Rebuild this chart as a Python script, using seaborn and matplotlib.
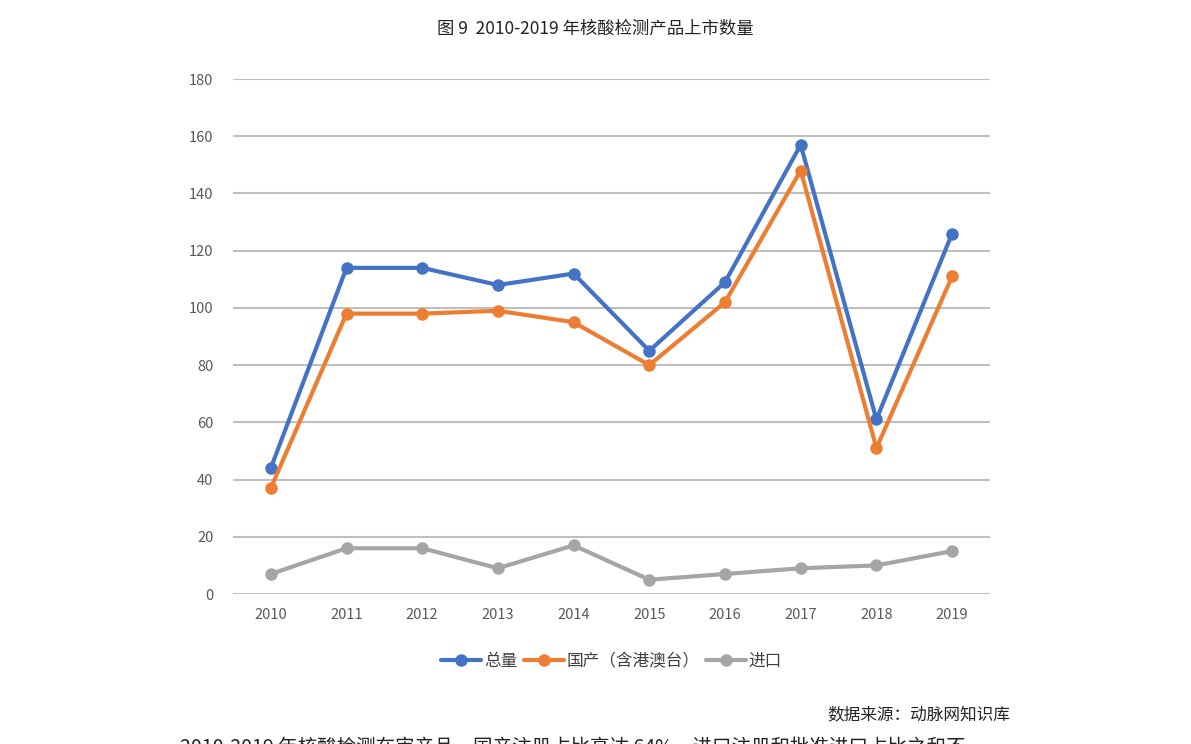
import pandas as pd
import seaborn as sns
import matplotlib.pyplot as plt

years = ["2010", "2011", "2012", "2013", "2014", "2015", "2016", "2017", "2018", "2019"]
total = [44, 114, 114, 108, 112, 85, 109, 157, 61, 126]
domestic = [37, 98, 98, 99, 95, 80, 102, 148, 51, 111]
imported = [7, 16, 16, 9, 17, 5, 7, 9, 10, 15]
series_names = ["总量", "国产（含港澳台）", "进口"]
colors = ["#4472C4", "#ED7D31", "#A5A5A5"]

df = pd.DataFrame({"年份": years * 3,
                   "数量": total + domestic + imported,
                   "类型": [n for n in series_names for _ in years]})

sns.set_style("white")
plt.rcParams["font.family"] = ["Noto Sans CJK SC", "DejaVu Sans"]

fig = plt.figure(figsize=(11.91, 7.44), dpi=100)
ax = fig.add_axes([0.1956, 0.2016, 0.6356, 0.6922])
sns.lineplot(data=df, x="年份", y="数量", hue="类型", palette=colors,
             marker="o", markersize=9, markeredgewidth=0, linewidth=3,
             sort=False, ax=ax)

ax.set_xlim(-0.5, 9.5)
ax.set_ylim(0, 180)
ax.set_yticks(range(0, 181, 20))
ax.grid(axis="y", color="#BFBFBF", linewidth=1.5)
ax.set_axisbelow(True)
for s in ax.spines.values():
    s.set_visible(False)
ax.tick_params(length=0, labelsize=10.5, labelcolor="#595959", pad=14)
ax.tick_params(axis="x", pad=10)
ax.set_xlabel("")
ax.set_ylabel("")

ax.legend(loc="upper center", bbox_to_anchor=(0.5, -0.085), ncol=3,
          frameon=False, fontsize=12, handlelength=2.4, handletextpad=0.15,
          columnspacing=0.4, labelcolor="#404040")

fig.text(0.5, 0.962, "图 9  2010-2019 年核酸检测产品上市数量", ha="center", va="center",
         fontsize=12.5, color="#222222")
fig.text(0.848, 0.039, "数据来源：动脉网知识库", ha="right", va="center",
         fontsize=12, color="#222222")
fig.text(0.151, -0.004, "2010-2019 年核酸检测在审产品，国产注册占比高达 64%，进口注册和批准进口占比之和不",
         ha="left", va="center", fontsize=14, color="#222222")

fig.savefig("out.png", dpi=100)
